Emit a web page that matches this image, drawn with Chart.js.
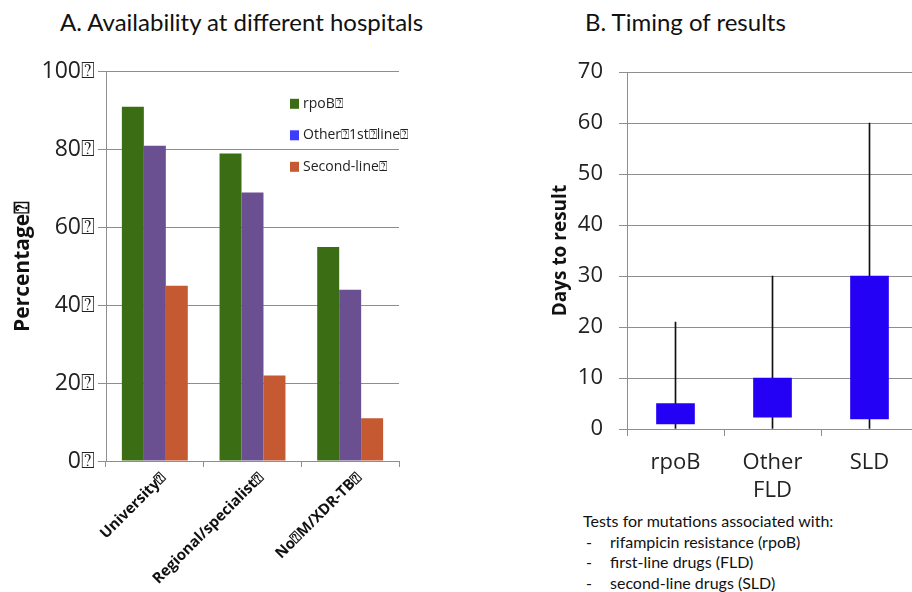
<!DOCTYPE html>
<html>
<head>
<meta charset="utf-8">
<script src="https://cdn.jsdelivr.net/npm/chart.js@4.4.0/dist/chart.umd.min.js"></script>
<style>
  html, body { margin: 0; padding: 0; background: #fff; width: 912px; height: 592px; overflow: hidden; }
  body { position: relative; }
  .title { position: absolute; top: 7px; font-family: Lato, sans-serif; font-size: 24px; color: #111; white-space: nowrap; }
  #chartA { position: absolute; left: 0; top: 55px; }
  #chartB { position: absolute; left: 540px; top: 43px; }
  .note { position: absolute; left: 583px; top: 511px; font-family: Lato, sans-serif; font-size: 16px; line-height: 20.5px; color: #111; white-space: nowrap; }
  .note span { display: inline-block; width: 24px; padding-left: 3px; }
</style>
</head>
<body>
<div class="title" style="left:60px">A. Availability at different hospitals</div>
<div class="title" style="left:585px">B. Timing of results</div>
<canvas id="chartA" width="410" height="537"></canvas>
<canvas id="chartB" width="380" height="467"></canvas>
<div class="note">
  Tests for mutations associated with:<br>
  <span>-</span>rifampicin resistance (rpoB)<br>
  <span>-</span>first-line drugs (FLD)<br>
  <span>-</span>second-line drugs (SLD)
</div>
<script>
// panel A: availability (%) by hospital type
const hospitalTypes = ['University⍰', 'Regional/specialist⍰', 'No⍰M/XDR-TB⍰'];
const seriesNames = ['rpoB⍰', 'Other⍰1st⍰line⍰', 'Second-line⍰'];
const rpoBAvail = [91, 79, 55];
const otherFirstLineAvail = [81, 69, 44];
const secondLineAvail = [45, 22, 11];

// panel B: days to result
const testTypes = [['rpoB'], ['Other', 'FLD'], ['SLD']];
const boxLow = [1, 2.3, 2];
const boxHigh = [5, 10, 30];
const rangeLow = [0, 0, 0];
const rangeHigh = [21, 30, 60];

const GRID = '#8e8e8e';

// legend drawn inside the plot area, stacked vertically
const insideLegend = {
  id: 'insideLegend',
  afterDraw(chart, args, opts) {
    if (!opts.colors) return;
    const ctx = chart.ctx;
    const area = chart.chartArea;
    ctx.save();
    ctx.font = '14px "Open Sans"';
    ctx.textBaseline = 'middle';
    chart.data.datasets.forEach((ds, i) => {
      const x = area.left + opts.left;
      const y = area.top + opts.top + i * opts.gap;
      ctx.fillStyle = opts.colors[i];
      ctx.fillRect(x, y - 5, 9, 10);
      ctx.fillStyle = '#222';
      ctx.fillText(ds.label, x + 13, y);
    });
    ctx.restore();
  }
};

new Chart(document.getElementById('chartA'), {
  type: 'bar',
  data: {
    labels: hospitalTypes,
    datasets: [
      { label: seriesNames[0], data: rpoBAvail, backgroundColor: '#3b6e14' },
      { label: seriesNames[1], data: otherFirstLineAvail, backgroundColor: '#6a5090' },
      { label: seriesNames[2], data: secondLineAvail, backgroundColor: '#c55a32' }
    ]
  },
  options: {
    responsive: false,
    animation: false,
    layout: { padding: { top: 0, right: 11, left: 0, bottom: 0 } },
    datasets: { bar: { categoryPercentage: 0.675, barPercentage: 1 } },
    plugins: {
      legend: { display: false },
      tooltip: { enabled: false },
      insideLegend: { colors: ['#3b6e14', '#3c3cff', '#c55a32'], left: 184, top: 32, gap: 31.5 }
    },
    scales: {
      x: {
        grid: { offset: true, drawOnChartArea: false, color: GRID, tickLength: 6 },
        border: { color: GRID },
        ticks: {
          minRotation: 45, maxRotation: 45, labelOffset: 9, padding: 2,
          color: '#111', font: { family: 'Open Sans', size: 15, weight: 'bold' }
        },
        afterFit: s => { s.height = 131; }
      },
      y: {
        min: 0, max: 100,
        grid: { color: GRID, tickLength: 8 },
        border: { color: GRID },
        ticks: {
          stepSize: 20, padding: 3, color: '#222',
          font: { family: 'Open Sans', size: 23 },
          callback: v => v + '⍰'
        },
        title: { display: true, text: 'Percentage⍰', color: '#111', padding: { top: 10, bottom: 0 },
          font: { family: 'Open Sans', size: 21, weight: 'bold' } },
        afterFit: s => { s.width = 106; }
      }
    }
  },
  plugins: [insideLegend]
});

new Chart(document.getElementById('chartB'), {
  type: 'bar',
  data: {
    labels: testTypes,
    datasets: [
      { label: 'IQR', data: boxLow.map((v, i) => [v, boxHigh[i]]), backgroundColor: '#2400f5',
        barThickness: 38, grouped: false, order: 1 },
      { label: 'Range', data: rangeLow.map((v, i) => [v, rangeHigh[i]]), backgroundColor: '#111',
        barThickness: 1, grouped: false, order: 2 }
    ]
  },
  options: {
    responsive: false,
    animation: false,
    layout: { padding: { top: 0, right: 2, left: 0, bottom: 0 } },
    plugins: { legend: { display: false }, tooltip: { enabled: false } },
    scales: {
      x: {
        grid: { offset: true, drawOnChartArea: false, color: GRID, tickLength: 7 },
        border: { color: GRID },
        ticks: { padding: 13, color: '#222', font: { family: 'Open Sans', size: 22, lineHeight: 1.27 } },
        afterFit: s => { s.height = 81; }
      },
      y: {
        min: 0, max: 70,
        grid: { color: GRID, tickLength: 8 },
        border: { color: GRID },
        ticks: { stepSize: 10, padding: 16, color: '#222', font: { family: 'Open Sans', size: 22 } },
        title: { display: true, text: 'Days to result', color: '#111', padding: { top: 9, bottom: 0 },
          font: { family: 'Open Sans', size: 19, weight: 'bold' } },
        afterFit: s => { s.width = 87; }
      }
    }
  }
});
</script>
</body>
</html>
